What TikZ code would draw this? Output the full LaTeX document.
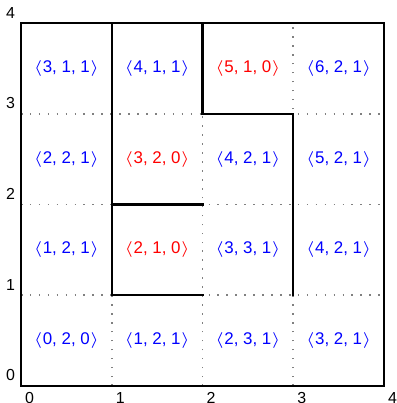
\documentclass[tikz,border=0pt]{standalone}
\usepackage{fontspec}
\setmainfont{Liberation Sans}
\begin{document}
\begin{tikzpicture}[
  gridline/.style={gray, line width=0.5pt, dash pattern=on 0.5pt off 2.3pt},
  wall/.style={black, line width=0.7pt, line cap=rect},
  cellb/.style={text=blue, font=\fontsize{5.3}{6}\selectfont},
  cellr/.style={text=red, font=\fontsize{5.3}{6}\selectfont},
  ticklbl/.style={font=\fontsize{5}{5.5}\selectfont, inner sep=0.5pt}
]
\useasboundingbox (-0.231,-0.187) rectangle (4.132,4.253);
% dotted grid
\foreach \i in {1,2,3} {
  \draw[gridline] (\i,0) -- (\i,4);
  \draw[gridline] (0,\i) -- (4,\i);
}
% walls
\draw[wall] (0,0) rectangle (4,4);
\draw[wall] (1,4) -- (1,1) -- (2,1);
\draw[wall] (1,2) -- (2,2);
\draw[wall] (2,4) -- (2,3) -- (3,3) -- (3,1);
% axis labels
\foreach \i in {0,...,4} {
  \node[ticklbl, anchor=north west] (x\i) at (\i+0.02,-0.05) {\i};
}
\foreach \j in {0,...,4} {
  \node[ticklbl, anchor=south east] (y\j) at (-0.04,\j+0.03) {\j};
}
% cell labels
\node[cellb] (c03) at (0.5,3.5) {$\langle$3, 1, 1$\rangle$};
\node[cellb] (c13) at (1.5,3.5) {$\langle$4, 1, 1$\rangle$};
\node[cellr] (c23) at (2.5,3.5) {$\langle$5, 1, 0$\rangle$};
\node[cellb] (c33) at (3.5,3.5) {$\langle$6, 2, 1$\rangle$};
\node[cellb] (c02) at (0.5,2.5) {$\langle$2, 2, 1$\rangle$};
\node[cellr] (c12) at (1.5,2.5) {$\langle$3, 2, 0$\rangle$};
\node[cellb] (c22) at (2.5,2.5) {$\langle$4, 2, 1$\rangle$};
\node[cellb] (c32) at (3.5,2.5) {$\langle$5, 2, 1$\rangle$};
\node[cellb] (c01) at (0.5,1.5) {$\langle$1, 2, 1$\rangle$};
\node[cellr] (c11) at (1.5,1.5) {$\langle$2, 1, 0$\rangle$};
\node[cellb] (c21) at (2.5,1.5) {$\langle$3, 3, 1$\rangle$};
\node[cellb] (c31) at (3.5,1.5) {$\langle$4, 2, 1$\rangle$};
\node[cellb] (c00) at (0.5,0.5) {$\langle$0, 2, 0$\rangle$};
\node[cellb] (c10) at (1.5,0.5) {$\langle$1, 2, 1$\rangle$};
\node[cellb] (c20) at (2.5,0.5) {$\langle$2, 3, 1$\rangle$};
\node[cellb] (c30) at (3.5,0.5) {$\langle$3, 2, 1$\rangle$};
\end{tikzpicture}
\end{document}
